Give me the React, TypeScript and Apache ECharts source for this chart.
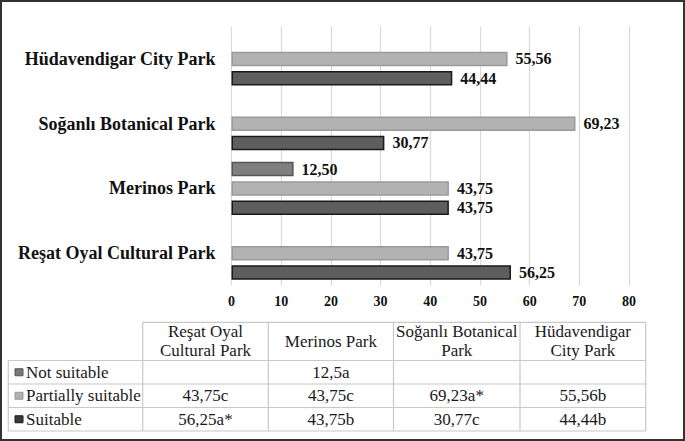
import React, { useEffect, useRef } from 'react';
import * as echarts from 'echarts';

const categories = ['Reşat Oyal Cultural Park', 'Merinos Park', 'Soğanlı Botanical Park', 'Hüdavendigar City Park'];
const seriesNames = ['Not suitable', 'Partially suitable', 'Suitable'];
const notSuitable = [null, 12.5, null, null];
const partiallySuitable = [43.75, 43.75, 69.23, 55.56];
const suitable = [56.25, 43.75, 30.77, 44.44];
const xTicks = [0, 10, 20, 30, 40, 50, 60, 70, 80];

const tableHeaders = ['Reşat Oyal\nCultural Park', 'Merinos Park', 'Soğanlı Botanical\nPark', 'Hüdavendigar\nCity Park'];
const notSuitableCells = ['', '12,5a', '', ''];
const partiallyCells = ['43,75c', '43,75c', '69,23a*', '55,56b'];
const suitableCells = ['56,25a*', '43,75b', '30,77c', '44,44b'];

const fills = ['#7f7f7f', '#b3b3b3', '#5e5e5e'];
const borders = ['#555555', '#9a9a9a', '#1a1a1a'];
const legendFills = ['#787878', '#b0b0b0', '#3a3a3a'];

const SERIF = 'Liberation Serif, Times New Roman, serif';

export default function App() {
  const ref = useRef<HTMLDivElement>(null);
  useEffect(() => {
    const chart = echarts.init(ref.current!, null, { renderer: 'svg' });
    const seriesData = [notSuitable, partiallySuitable, suitable];
    const cellRows = [notSuitableCells, partiallyCells, suitableCells];

    const colX = [8.3, 142.7, 268.3, 393.5, 520, 645.7];
    const rowY = [322.3, 360.5, 384, 407.5, 431];
    const lineColor = '#c8c8c8';
    const graphics: any[] = [];
    graphics.push({ type: 'line', shape: { x1: colX[1], y1: rowY[0], x2: colX[5], y2: rowY[0] }, style: { stroke: lineColor, lineWidth: 1.2 } });
    for (let r = 1; r < rowY.length; r++) {
      graphics.push({ type: 'line', shape: { x1: colX[0], y1: rowY[r], x2: colX[5], y2: rowY[r] }, style: { stroke: lineColor, lineWidth: 1.2 } });
    }
    graphics.push({ type: 'line', shape: { x1: colX[0], y1: rowY[1], x2: colX[0], y2: rowY[4] }, style: { stroke: lineColor, lineWidth: 1.2 } });
    for (let c = 1; c < colX.length; c++) {
      graphics.push({ type: 'line', shape: { x1: colX[c], y1: rowY[0], x2: colX[c], y2: rowY[4] }, style: { stroke: lineColor, lineWidth: 1.2 } });
    }
    tableHeaders.forEach((h, i) => {
      graphics.push({
        type: 'text',
        x: (colX[i + 1] + colX[i + 2]) / 2,
        y: (rowY[0] + rowY[1]) / 2,
        style: { text: h, fontFamily: SERIF, fontSize: 17, lineHeight: 19, fill: '#1a1a1a', align: 'center', verticalAlign: 'middle' },
      });
    });
    seriesNames.forEach((name, r) => {
      const cy = (rowY[r + 1] + rowY[r + 2]) / 2;
      graphics.push({
        type: 'rect',
        shape: { x: 15, y: cy - 3.5, width: 8, height: 7 },
        style: { fill: legendFills[r], stroke: borders[r], lineWidth: 1 },
      });
      graphics.push({
        type: 'text', x: 26, y: cy,
        style: { text: name, fontFamily: SERIF, fontSize: 17, fill: '#1a1a1a', align: 'left', verticalAlign: 'middle' },
      });
      cellRows[r].forEach((t, c) => {
        if (!t) return;
        graphics.push({
          type: 'text', x: (colX[c + 1] + colX[c + 2]) / 2, y: cy,
          style: { text: t, fontFamily: SERIF, fontSize: 17, fill: '#1a1a1a', align: 'center', verticalAlign: 'middle' },
        });
      });
    });
    graphics.push({ type: 'rect', shape: { x: 1, y: 1, width: 683, height: 439 }, style: { fill: 'none', stroke: '#333', lineWidth: 2 } });

    const option: any = {
      animation: false,
      backgroundColor: '#ffffff',
      grid: { left: 231.5, right: 56, top: 26.5, height: 259, containLabel: false },
      xAxis: {
        type: 'value', min: 0, max: 80, interval: 10,
        axisLine: { show: false }, axisTick: { show: false },
        splitLine: { show: true, lineStyle: { color: '#d9d9d9', width: 1.2 } },
        axisLabel: {
          margin: 9, fontFamily: SERIF, fontWeight: 'bold', fontSize: 14, color: '#111',
          formatter: (v: number) => (xTicks.includes(v) ? String(v) : ''),
        },
      },
      yAxis: {
        type: 'category', data: categories,
        axisLine: { show: false }, axisTick: { show: false }, splitLine: { show: false },
        axisLabel: { margin: 16, fontFamily: SERIF, fontWeight: 'bold', fontSize: 18, color: '#111' },
      },
      series: seriesNames.map((name, i) => ({
        name, type: 'bar', data: seriesData[i],
        barWidth: 14.5, barGap: '33%',
        itemStyle: { color: fills[i], borderColor: borders[i], borderWidth: 1.5 },
        label: {
          show: true, position: 'right', distance: 8,
          fontFamily: SERIF, fontWeight: 'bold', fontSize: 16, color: '#111',
          formatter: (p: any) => Number(p.value).toFixed(2).replace('.', ','),
        },
      })),
      graphic: graphics,
    };
    chart.setOption(option);
    return () => chart.dispose();
  }, []);
  return <div ref={ref} style={{ position: 'absolute', left: 0, top: 0, width: 685, height: 441, background: '#fff' }} />;
}
